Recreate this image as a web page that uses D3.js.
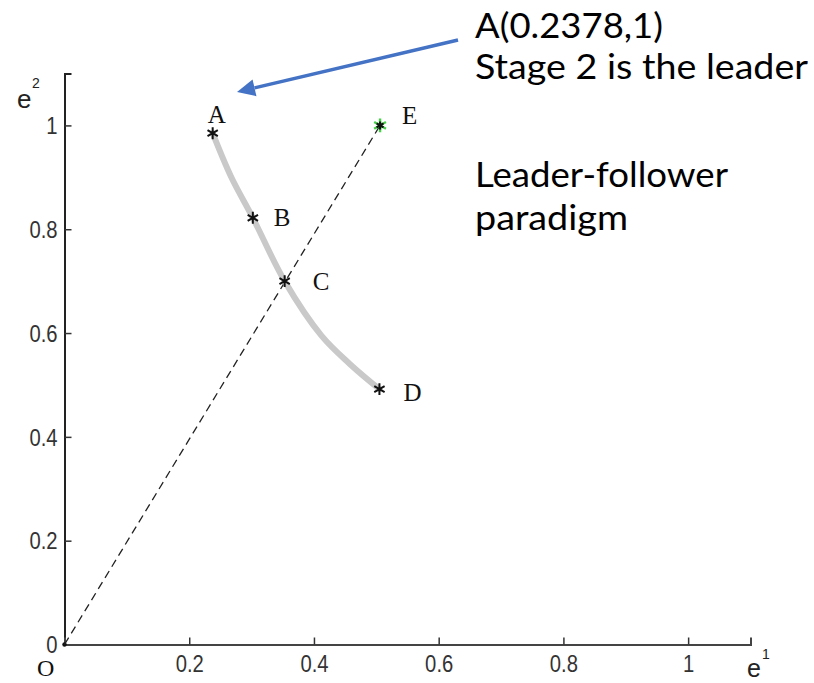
<!DOCTYPE html>
<html>
<head>
<meta charset="utf-8">
<script src="https://cdn.jsdelivr.net/npm/d3@7"></script>
<style>
  html, body { margin: 0; padding: 0; background: #fff; }
  svg { display: block; }
</style>
</head>
<body>
<script>
// ---- data ----
const pointNames = ["A", "B", "C", "D", "E"];
const pointX = [0.2376, 0.302, 0.353, 0.505, 0.506];
const pointY = [0.985, 0.822, 0.700, 0.492, 1.0];
const curveX = [0.2376, 0.2675, 0.302, 0.353, 0.412, 0.457, 0.505];
const curveY = [0.985, 0.900, 0.822, 0.700, 0.595, 0.541, 0.492];
const diagX = [0, 0.506];
const diagY = [0, 1.0];
const xTicks = [0.2, 0.4, 0.6, 0.8, 1];
const yTicks = [0, 0.2, 0.4, 0.6, 0.8, 1];
const noteLines = ["A(0.2378,1)", "Stage 2 is the leader", "", "Leader-follower", "paradigm"];

// ---- layout ----
const W = 814, H = 683;
const svg = d3.select("body").append("svg").attr("width", W).attr("height", H);

const x = d3.scaleLinear().domain([0, 1.1]).range([64.5, 750.5]);
const y = d3.scaleLinear().domain([0, 1.1]).range([644.5, 73.5]);

const tickFont = "'Liberation Sans', Arial, sans-serif";
const sx = 0.88; // horizontal condensing of tick labels

// axes
const yAxis = svg.append("g").attr("transform", `translate(${x(0)},0)`)
  .call(d3.axisRight(y).tickValues(yTicks).tickSize(7).tickFormat(d3.format("~g")));
yAxis.select(".domain").attr("stroke", "#222").attr("stroke-width", 2);
yAxis.selectAll(".tick line").attr("stroke", "#333").attr("stroke-width", 1.5);
yAxis.selectAll(".tick text")
  .attr("x", -7 / sx).attr("text-anchor", "end").attr("dy", "0.36em")
  .attr("transform", `scale(${sx},1)`)
  .attr("font-family", tickFont)
  .attr("font-size", 23).attr("fill", "#333");

const xAxis = svg.append("g").attr("transform", `translate(0,${y(0)})`)
  .call(d3.axisTop(x).tickValues(xTicks).tickSize(7).tickFormat(d3.format("~g")));
xAxis.select(".domain").attr("stroke", "#444").attr("stroke-width", 2);
xAxis.selectAll(".tick line").attr("stroke", "#333").attr("stroke-width", 1.5);
xAxis.selectAll(".tick text")
  .attr("x", 0).attr("y", 28).attr("dy", 0)
  .attr("transform", `scale(${sx},1)`)
  .attr("font-family", tickFont)
  .attr("font-size", 23).attr("fill", "#333");

// origin dot
svg.append("circle").attr("cx", x(0)).attr("cy", y(0)).attr("r", 2.2).attr("fill", "#111");

// axis titles
const sansLbl = "'Liberation Sans', Arial, sans-serif";
svg.append("text").attr("x", 17).attr("y", 108).attr("font-family", sansLbl).attr("font-size", 26).attr("fill", "#222").text("e");
svg.append("text").attr("x", 32).attr("y", 88).attr("font-family", sansLbl).attr("font-size", 14).attr("fill", "#222").text("2");
svg.append("text").attr("x", 747).attr("y", 677).attr("font-family", sansLbl).attr("font-size", 25).attr("fill", "#222").text("e");
svg.append("text").attr("x", 762).attr("y", 659).attr("font-family", sansLbl).attr("font-size", 14).attr("fill", "#222").text("1");
svg.append("text").attr("x", 37).attr("y", 676).attr("font-family", "'Liberation Serif', 'Times New Roman', serif").attr("font-size", 24).attr("fill", "#111").text("O");

// dashed diagonal
const diag = diagX.map((v, i) => [v, diagY[i]]);
svg.append("path")
  .attr("d", d3.line().x(d => x(d[0])).y(d => y(d[1]))(diag))
  .attr("fill", "none").attr("stroke", "#222").attr("stroke-width", 1.3)
  .attr("stroke-dasharray", "8,5");

// gray curve
const curve = curveX.map((v, i) => [v, curveY[i]]);
svg.append("path")
  .attr("d", d3.line().x(d => x(d[0])).y(d => y(d[1])).curve(d3.curveCatmullRom)(curve))
  .attr("fill", "none").attr("stroke", "#c9c9c9").attr("stroke-width", 6)
  .attr("stroke-linecap", "round");

// markers
const pts = pointNames.map((n, i) => ({ n, x: pointX[i], y: pointY[i] }));
const star = d3.symbol().type(d3.symbolAsterisk);
pts.forEach(p => {
  if (p.n === "E") {
    svg.append("path").attr("d", star.size(130)()).attr("transform", `translate(${x(p.x)},${y(p.y)})`)
      .attr("fill", "none").attr("stroke", "#45d045").attr("stroke-width", 2.4);
    svg.append("path").attr("d", star.size(45)()).attr("transform", `translate(${x(p.x)},${y(p.y)})`)
      .attr("fill", "none").attr("stroke", "#111").attr("stroke-width", 2.2);
  } else {
    svg.append("path").attr("d", star.size(100)()).attr("transform", `translate(${x(p.x)},${y(p.y)})`)
      .attr("fill", "none").attr("stroke", "#111").attr("stroke-width", 2);
  }
});

// point labels
const labelOff = { A: [-5, -10], B: [21, 8], C: [28, 9], D: [24, 12], E: [22, -1] };
svg.selectAll("text.pl").data(pts).join("text").attr("class", "pl")
  .attr("x", d => x(d.x) + labelOff[d.n][0])
  .attr("y", d => y(d.y) + labelOff[d.n][1])
  .attr("font-family", "'Liberation Serif', 'Times New Roman', serif")
  .attr("font-size", 25).attr("fill", "#111").text(d => d.n);

// annotation text
const noteY = [38, 79, 0, 187, 230];
const noteW = [188, 333, 0, 253, 153];
noteLines.forEach((t, i) => {
  if (!t) return;
  svg.append("text").attr("x", 475).attr("y", noteY[i])
    .attr("font-family", "Lato, 'Open Sans', sans-serif").attr("font-size", 34)
    .attr("textLength", noteW[i]).attr("lengthAdjust", "spacingAndGlyphs")
    .attr("fill", "#000").text(t);
});

// blue arrow (from annotation toward point A)
const ax1 = 458, ay1 = 40, ax2 = 237, ay2 = 92;
const ang = Math.atan2(ay2 - ay1, ax2 - ax1);
const headLen = 18, headW = 8.5;
const bx = ax2 - headLen * Math.cos(ang), by = ay2 - headLen * Math.sin(ang);
svg.append("line").attr("x1", ax1).attr("y1", ay1).attr("x2", bx).attr("y2", by)
  .attr("stroke", "#4472c4").attr("stroke-width", 3.5);
svg.append("path")
  .attr("d", `M${ax2},${ay2}L${bx + headW * Math.sin(ang)},${by - headW * Math.cos(ang)}L${bx - headW * Math.sin(ang)},${by + headW * Math.cos(ang)}Z`)
  .attr("fill", "#4472c4");
</script>
</body>
</html>
